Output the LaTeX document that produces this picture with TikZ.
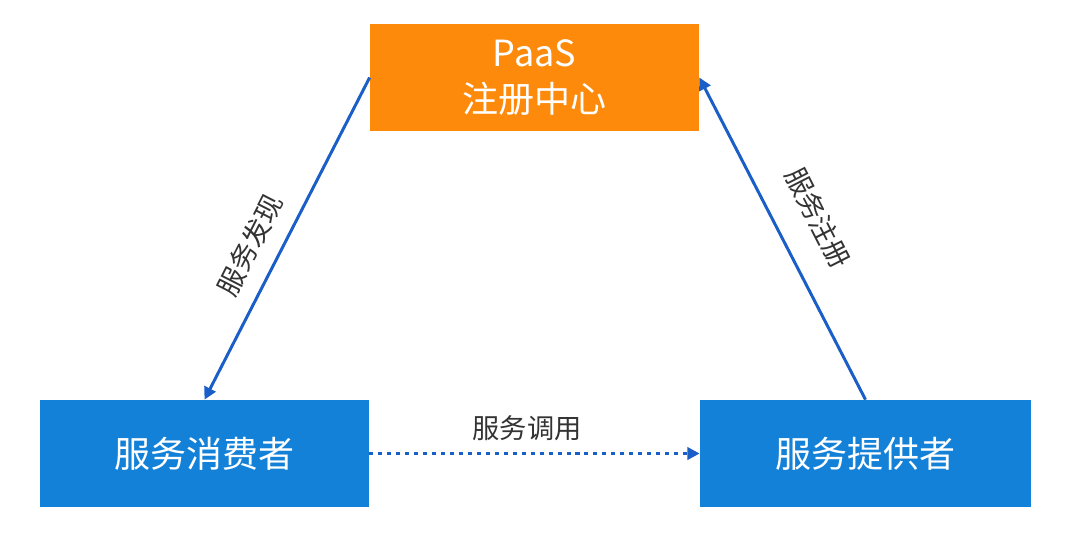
\documentclass[tikz,border=0pt]{standalone}
\usepackage{fontspec}
\setmainfont{Noto Sans CJK SC}
\usetikzlibrary{arrows.meta}
\definecolor{regorange}{RGB}{253,138,11}
\definecolor{boxblue}{RGB}{19,129,216}
\definecolor{lineblue}{RGB}{26,95,200}
\definecolor{labelgray}{RGB}{51,51,51}
\begin{document}
\begin{tikzpicture}[
        box/.style = {minimum width = 6.58cm, minimum height = 2.14cm,
                      text = white, align = center, inner sep = 0pt,
                      font = \fontsize{20.5}{26}\selectfont},
        flow/.style = {draw = lineblue, line width = 1.7pt,
                       -{Triangle[length = 7pt, width = 7pt]}},
        tag/.style = {text = labelgray, font = \fontsize{15.5}{18}\selectfont}
    ]
            \useasboundingbox (0.0, 0.0) rectangle (21.4, 10.84);

            \node [box, fill = regorange] (paas) at (10.69, 9.29)
                  {PaaS\\注册中心};

            \node [box, fill = boxblue] (consumer) at (4.09, 1.77)
                  {服务消费者};

            \node [box, fill = boxblue, minimum width = 6.62cm]
                  (provider) at (17.31, 1.77) {服务提供者};

            \draw [flow] (paas.west) -- (consumer.north); % discovery
            \draw [flow] (provider.north) -- (paas.east); % register
            \draw [flow, dash pattern = on 2.3pt off 2.8pt]
                  (consumer.east) -- (provider.west); % call

            \node [tag, rotate = 63] (discover) at (5.0, 5.94) {服务发现};
            \node [tag, rotate = -63] (register) at (16.36, 6.48) {服务注册};
            \node [tag] (invoke) at (10.54, 2.28) {服务调用};
        \end{tikzpicture}
\end{document}
